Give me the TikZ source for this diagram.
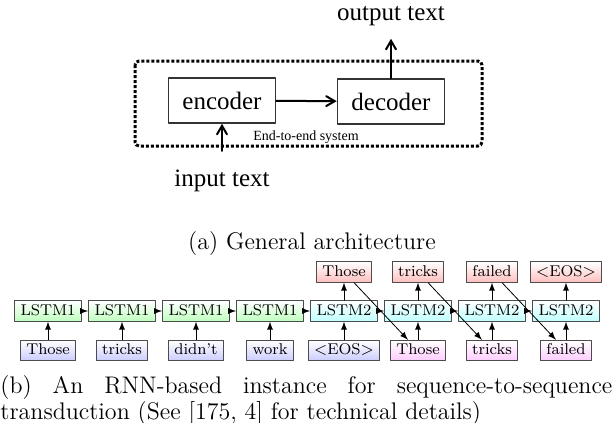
\documentclass[tikz,border=0pt]{standalone}
\usepackage{fontspec}
\newfontfamily\tms{Liberation Serif}
\usetikzlibrary{arrows}
\usetikzlibrary{calc}

\tikzset{
  blk/.style={draw=black!80, line width=0.75pt, minimum width=53.5pt, minimum height=22.5pt, inner sep=0pt, font=\tms\fontsize{12.5}{14}\selectfont},
  cell/.style={draw=black!70, line width=0.5pt, inner xsep=3pt, inner ysep=1.6pt, text height=5.6pt, text depth=1.4pt, font=\fontsize{7.8}{9}\selectfont},
  lstmA/.style={cell, top color=white, bottom color=green!25},
  lstmB/.style={cell, top color=white, bottom color=cyan!25},
  srcw/.style={cell, top color=white, bottom color=blue!20},
  tgtw/.style={cell, top color=white, bottom color=magenta!20},
  outw/.style={cell, top color=white, bottom color=red!25},
  thin/.style={->, >=latex, line width=0.4pt},
  thick/.style={->, >=angle 60, line width=1pt},
  capt/.style={font=\fontsize{12}{10}\selectfont}
}

\begin{document}
\begin{tikzpicture}[line cap=round,line join=round,x=0.5pt,y=-0.5pt]
\useasboundingbox (0,0) rectangle (612,423);
%\draw[help lines] (0,0) grid[step=50] (612,423);

% (a) general architecture
\draw [line width=1.5pt, dash pattern=on 1.5pt off 1pt, rounded corners=2pt, line cap=butt] (135,61) rectangle (482,146);
\node [blk] (enc) at (222,100.5) {encoder};
\node [blk] (dec) at (391,101.5) {decoder};
\node [font=\tms\fontsize{12.5}{14}\selectfont] (intxt) at (222,181) {input text};
\node [font=\tms\fontsize{12.5}{14}\selectfont] (outtxt) at (391,16) {output text};
\node [font=\tms\fontsize{7}{8}\selectfont] (sys) at (306,137) {End-to-end system};
\draw [thick] (enc) -- (dec);
\draw [thick, shorten <=6pt] (intxt.north) -- (enc.south);
\draw [thick, shorten >=3pt] (dec.north) -- (outtxt.south);
\node [capt] (capa) at (312,244) {(a) General architecture};

% (b) RNN instance
\node [lstmA] (e1) at (48,311) {LSTM1};
\node [lstmA] (e2) at (122,311) {LSTM1};
\node [lstmA] (e3) at (196,311) {LSTM1};
\node [lstmA] (e4) at (270,311) {LSTM1};
\node [lstmB] (d1) at (344,311) {LSTM2};
\node [lstmB] (d2) at (418,311) {LSTM2};
\node [lstmB] (d3) at (492,311) {LSTM2};
\node [lstmB] (d4) at (566,311) {LSTM2};

\node [srcw] (x1) at (48,350.5) {Those};
\node [srcw] (x2) at (122,350.5) {tricks};
\node [srcw] (x3) at (196,350.5) {didn't};
\node [srcw] (x4) at (270,350.5) {work};
\node [srcw] (y1) at (344,350.5) {$<$EOS$>$};
\node [tgtw] (y2) at (418,350.5) {Those};
\node [tgtw] (y3) at (492,350.5) {tricks};
\node [tgtw] (y4) at (566,350.5) {failed};

\node [outw] (o1) at (344,272) {Those};
\node [outw] (o2) at (418,272) {tricks};
\node [outw] (o3) at (492,272) {failed};
\node [outw] (o4) at (566,272) {$<$EOS$>$};

\draw [thin] (e1) -- (e2);
\draw [thin] (e2) -- (e3);
\draw [thin] (e3) -- (e4);
\draw [thin] (e4) -- (d1);
\draw [thin] (d1) -- (d2);
\draw [thin] (d2) -- (d3);
\draw [thin] (d3) -- (d4);

\draw [thin] (x1) -- (e1);
\draw [thin] (x2) -- (e2);
\draw [thin] (x3) -- (e3);
\draw [thin] (x4) -- (e4);
\draw [thin] (y1) -- (d1);
\draw [thin] (y2) -- (d2);
\draw [thin] (y3) -- (d3);
\draw [thin] (y4) -- (d4);

\draw [thin] (d1) -- (o1);
\draw [thin] (d2) -- (o2);
\draw [thin] (d3) -- (o3);
\draw [thin] (d4) -- (o4);

\draw [thin] (o1) -- (y2);
\draw [thin] (o2) -- (y3);
\draw [thin] (o3) -- (y4);

\node [capt, anchor=north west, text width=306pt, align=justify, inner sep=0pt] (capb) at (0,375) {(b) An RNN-based instance for sequence-to-sequence \mbox{transduction} (See [175, 4] for technical details)};
\end{tikzpicture}
\end{document}
